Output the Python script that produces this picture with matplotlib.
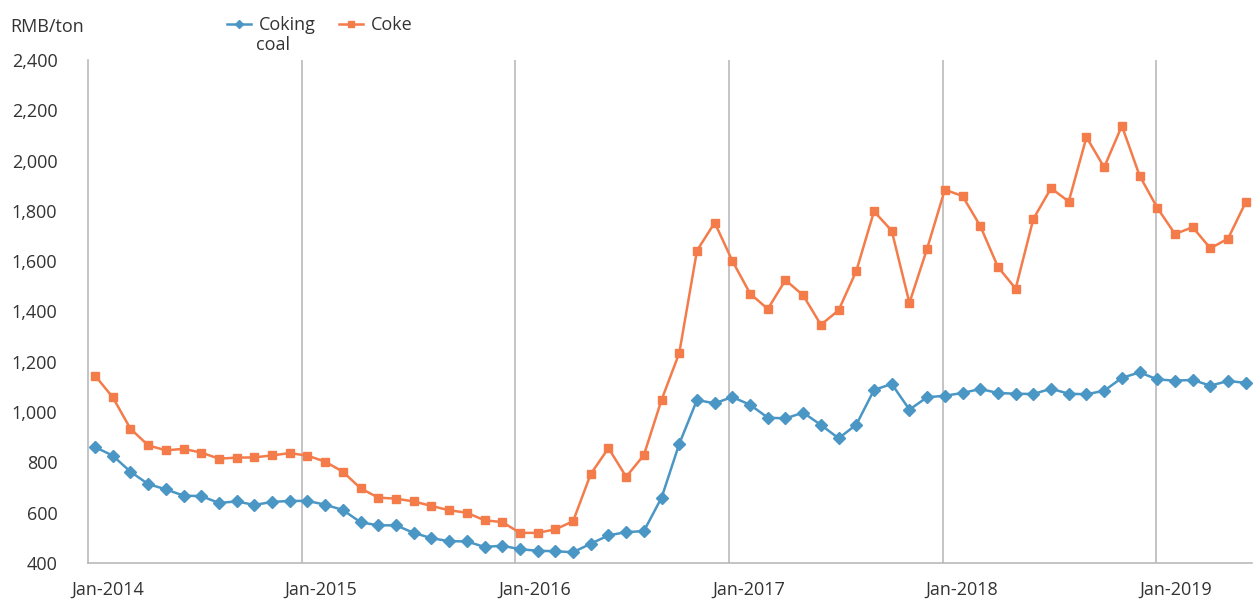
import matplotlib
matplotlib.use("Agg")
import matplotlib.pyplot as plt
import numpy as np

# Monthly prices, Jan-2014 .. Jun-2019 (RMB/ton)
coke = [1145, 1059, 934, 868, 848, 854, 839, 815, 819, 820, 828, 837,
        827, 803, 763, 697, 660, 656, 645, 627, 610, 600, 570, 563,
        520, 520, 534, 566, 754, 857, 743, 829, 1049, 1235, 1642, 1753,
        1601, 1471, 1410, 1525, 1464, 1347, 1405, 1561, 1798, 1721, 1434, 1650,
        1884, 1859, 1740, 1577, 1491, 1768, 1890, 1837, 2093, 1973, 2138, 1940,
        1812, 1708, 1735, 1651, 1690, 1835]
coking_coal = [861, 827, 763, 714, 693, 668, 666, 639, 645, 631, 643, 647,
               647, 632, 611, 562, 550, 550, 520, 499, 487, 486, 464, 469,
               455, 449, 447, 443, 477, 510, 523, 527, 660, 874, 1048, 1035,
               1060, 1029, 978, 975, 998, 949, 896, 950, 1088, 1112, 1010, 1059,
               1065, 1076, 1092, 1076, 1073, 1072, 1093, 1073, 1071, 1085, 1136, 1158,
               1130, 1125, 1128, 1105, 1124, 1116]
year_labels = ["Jan-2014", "Jan-2015", "Jan-2016", "Jan-2017", "Jan-2018", "Jan-2019"]

plt.rcParams['font.family'] = ['Open Sans', 'DejaVu Sans']
txt = '#333333'
grid = '#b4b4b8'
blue = '#4a96c4'
orange = '#f47b4a'
fs = 13

fig = plt.figure(figsize=(12.53, 5.99), dpi=100)
ax = fig.add_axes([0.0702, 0.060, 0.929, 0.840])

x = np.arange(len(coke))
ax.plot(x, coking_coal, color=blue, lw=1.8, marker='D', ms=6, label='Coking')
ax.plot(x, coke, color=orange, lw=1.8, marker='s', ms=6, label='Coke')

# year boundaries (Excel date axis, slightly off the monthly points)
year_pos = -0.4 + 12.07 * np.arange(len(year_labels))
for p in year_pos[1:]:
    ax.axvline(p, color=grid, lw=1.1, zorder=0)

ax.set_xlim(-0.4, 65.35)
ax.set_ylim(400, 2400)
ax.set_yticks(np.arange(400, 2401, 200))
ax.set_yticklabels([f"{v:,}" for v in range(400, 2401, 200)])
ax.set_xticks(year_pos + 1.1)
ax.set_xticklabels(year_labels)
ax.tick_params(axis='both', length=0, labelsize=fs, colors=txt)
ax.tick_params(axis='y', pad=22)
ax.tick_params(axis='x', pad=13)

for s in ['top', 'right']:
    ax.spines[s].set_visible(False)
for s in ['left', 'bottom']:
    ax.spines[s].set_color(grid)
    ax.spines[s].set_linewidth(1.1)

fig.text(10 / 1253, 1 - 27 / 599, "RMB/ton", fontsize=fs, color=txt, va='center', ha='left')
fig.legend(loc='upper left', bbox_to_anchor=(211 / 1253, 1 - 0 / 599), ncol=2, frameon=False,
           fontsize=fs, handlelength=1.3, handletextpad=0.45, columnspacing=1.3,
           labelcolor=txt, markerscale=0.7)
# second line of the "Coking coal" legend label
fig.text(256 / 1253, 1 - 45 / 599, "coal", fontsize=fs, color=txt, va='center', ha='left')

fig.savefig('out.png', dpi=100)
